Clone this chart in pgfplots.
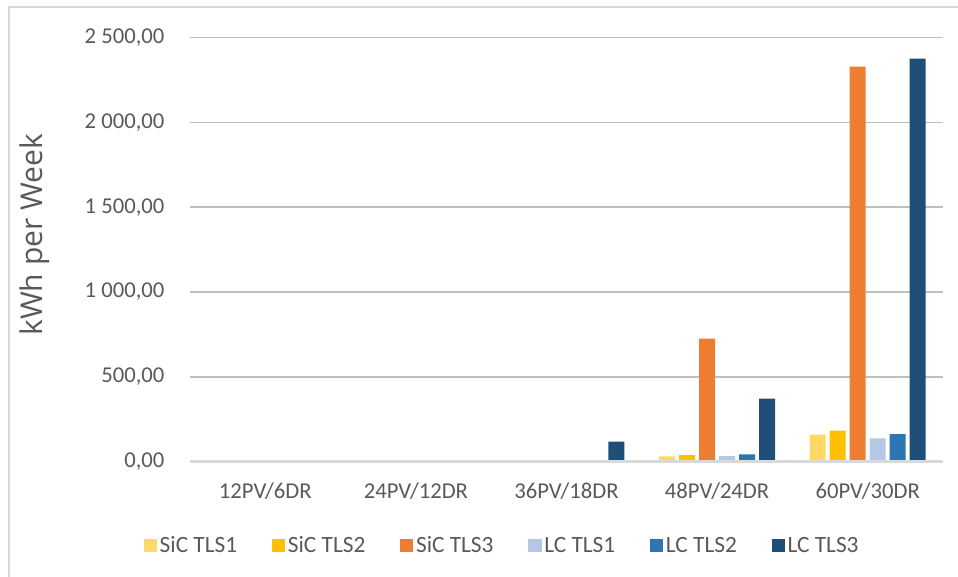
\documentclass[border=0pt]{standalone}
\usepackage{pgfplots}
\pgfplotsset{compat=1.18}
\usepackage{fontspec}
\setmainfont{Carlito}
\newfontfamily\ylabfont{Open Sans}
\definecolor{txt}{HTML}{595959}
\definecolor{grid}{HTML}{D9D9D9}
\definecolor{cA}{HTML}{FFD966}
\definecolor{cB}{HTML}{FFC000}
\definecolor{cC}{HTML}{ED7D31}
\definecolor{cD}{HTML}{B4C7E7}
\definecolor{cE}{HTML}{2E75B6}
\definecolor{cF}{HTML}{1F4E79}
\begin{document}
\begin{tikzpicture}
\path[use as bounding box] (0,0) rectangle (718.5pt,432.75pt);
\draw[grid, line width=0.9pt] (6.75pt,0) -- (6.75pt,427.5pt) -- (718.5pt,427.5pt);
\begin{axis}[
  at={(142.5pt,86.5pt)}, anchor=south west,
  scale only axis, width=564.75pt, height=318pt,
  ybar=3pt, bar width=12pt,
  xmin=-0.5, xmax=4.5, ymin=0, ymax=2500,
  xtick={0,1,2,3,4},
  xticklabels={12PV/6DR,24PV/12DR,36PV/18DR,48PV/24DR,60PV/30DR},
  ytick={0,500,1000,1500,2000,2500},
  yticklabels={{0,00},{500,00},{1 000,00},{1 500,00},{2 000,00},{2 500,00}},
  major tick length=0pt,
  axis line style={draw=none},
  ymajorgrids, xmajorgrids=false, grid style={grid, line width=1.2pt},
  tick label style={font=\fontsize{17}{20}\selectfont, text=txt},
  yticklabel style={inner sep=0pt, xshift=-19pt},
  xticklabel style={inner sep=0pt, yshift=-16pt},
  ylabel={\ylabfont kWh per Week},
  ylabel style={at={(axis description cs:-0.206,0.535)}, anchor=center, font=\fontsize{22.5}{26}\selectfont, text=txt},
  legend style={at={(axis description cs:0.415,-0.198)}, anchor=center, draw=none,
    legend columns=6, font=\fontsize{17.5}{20}\selectfont, text=txt,
    /tikz/every even column/.append style={column sep=24pt}},
  legend image code/.code={\fill[#1] (0pt,-5pt) rectangle (10pt,5pt);},
  clip=false,
]
\addplot[fill=cA, draw=none] coordinates {(0,0) (1,0) (2,0) (3,31) (4,159)};
\addplot[fill=cB, draw=none] coordinates {(0,0) (1,0) (2,0) (3,39) (4,183)};
\addplot[fill=cC, draw=none] coordinates {(0,0) (1,0) (2,0) (3,725) (4,2329)};
\addplot[fill=cD, draw=none] coordinates {(0,0) (1,0) (2,4) (3,33) (4,137)};
\addplot[fill=cE, draw=none] coordinates {(0,0) (1,0) (2,7) (3,43) (4,163)};
\addplot[fill=cF, draw=none] coordinates {(0,0) (1,0) (2,118) (3,371) (4,2376)};
\legend{SiC TLS1,SiC TLS2,SiC TLS3,LC TLS1,LC TLS2,LC TLS3}
\draw[grid, line width=1.8pt] (axis cs:-0.5,0) -- (axis cs:4.5,0);
\end{axis}
\end{tikzpicture}
\end{document}
